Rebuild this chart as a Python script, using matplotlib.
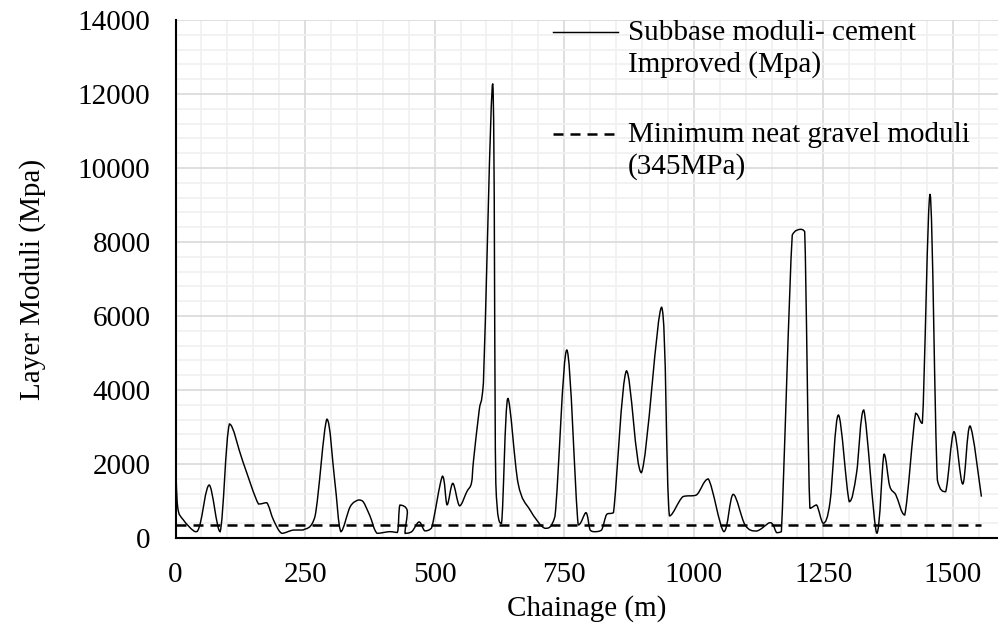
import numpy as np
import matplotlib.pyplot as plt
from matplotlib.path import Path
from matplotlib.patches import PathPatch
from matplotlib.lines import Line2D
from matplotlib.ticker import MultipleLocator

plt.rcParams['font.family'] = ['Liberation Serif', 'DejaVu Serif']
plt.rcParams['font.size'] = 21

# chainage (m) and subbase moduli (MPa)
chainage = [0, 4, 15, 38, 47, 65, 86, 104, 130, 160, 176, 189, 205, 227, 246, 269,
            292, 307, 319, 337, 353, 362, 375, 389, 413, 428, 433, 447, 443, 456,
            470, 481, 494, 515, 524, 535, 548, 562, 571, 575, 586, 594, 612, 618,
            629, 641, 661, 684, 713, 732, 755, 777, 792, 800, 809, 822, 832, 845,
            870, 899, 938, 953, 979, 1005, 1028, 1058, 1076, 1099, 1121, 1146, 1153,
            1160, 1169, 1190, 1205, 1214, 1224, 1237, 1250, 1263, 1279, 1300, 1314,
            1328, 1353, 1367, 1378, 1390, 1407, 1428, 1441, 1456, 1470, 1486, 1502,
            1519, 1533, 1555]
moduli = [2200, 850, 490, 171, 351, 1432, 171, 3081, 2060, 919, 954, 486, 126, 215,
          216, 577, 3210, 1570, 171, 846, 1027, 982, 600, 126, 171, 150, 890, 740,
          125, 175, 434, 193, 270, 1670, 898, 1477, 869, 1252, 1486, 2100, 3460,
          4180, 12280, 1478, 397, 3775, 1478, 757, 262, 576, 5081, 351, 685, 216,
          171, 216, 640, 685, 4517, 1766, 6236, 595, 1117, 1162, 1595, 171, 1180,
          351, 189, 414, 351, 144, 171, 8189, 8342, 8279, 802, 892, 397, 982, 3324,
          982, 1750, 3459, 126, 2270, 1405, 1162, 622, 3370, 3099, 9295, 1567, 1252,
          2874, 1459, 3027, 1117]
min_gravel = 345

label_main = 'Subbase moduli- cement\nImproved (Mpa)'
label_min = 'Minimum neat gravel moduli\n(345MPa)'


def smooth_path(x, y):
    # smoothed line like excel: catmull-rom beziers, controls kept inside each segment's y range
    pts = np.column_stack([x, y]).astype(float)
    p = np.vstack([pts[0], pts, pts[-1]])
    verts = [pts[0]]
    codes = [Path.MOVETO]
    for i in range(1, len(p) - 2):
        p0, p1, p2, p3 = p[i - 1], p[i], p[i + 1], p[i + 2]
        c1 = p1 + (p2 - p0) / 6
        c2 = p2 - (p3 - p1) / 6
        lo, hi = min(p1[1], p2[1]), max(p1[1], p2[1])
        c1[1] = np.clip(c1[1], lo, hi)
        c2[1] = np.clip(c2[1], lo, hi)
        verts += [c1, c2, p2]
        codes += [Path.CURVE4] * 3
    return Path(verts, codes)


fig = plt.figure(figsize=(9.98, 6.25), dpi=100)
ax = fig.add_axes([0.1759, 0.1392, 0.8241, 0.8288])

ax.add_patch(PathPatch(smooth_path(chainage, moduli), fill=False,
                       edgecolor='black', lw=1.05, zorder=3))
ax.plot([chainage[0], chainage[-1]], [min_gravel, min_gravel], color='black',
        lw=1.8, dashes=(4, 2.8), zorder=3)

ax.set_xlim(0, 1587)
ax.set_ylim(0, 14000)
ax.xaxis.set_major_locator(MultipleLocator(250))
ax.xaxis.set_minor_locator(MultipleLocator(50))
ax.yaxis.set_major_locator(MultipleLocator(2000))
ax.yaxis.set_minor_locator(MultipleLocator(400))
ax.grid(which='major', color='#d9d9d9', lw=1.2, zorder=0)
ax.grid(which='minor', color='#f0f0f0', lw=1.2, zorder=0)
ax.set_axisbelow(True)
ax.tick_params(which='both', length=0)
ax.tick_params(axis='x', pad=17)
ax.tick_params(axis='y', pad=18)

for s in ['top', 'right']:
    ax.spines[s].set_visible(False)
for s in ['left', 'bottom']:
    ax.spines[s].set_linewidth(1.5)

ax.set_xlabel('Chainage (m)')
ax.set_ylabel('Layer Moduli (Mpa)')
ax.xaxis.set_label_coords(0.5, -0.11)
ax.yaxis.set_label_coords(-0.158, 0.5)

handles = [Line2D([], [], color='black', lw=1.05),
           Line2D([], [], color='black', lw=1.8, dashes=(4, 2.8))]
leg = ax.legend(handles, [label_main, label_min], loc='upper left',
                bbox_to_anchor=(0.459, 1.0), frameon=False, borderpad=0,
                borderaxespad=0, labelspacing=1.49, handlelength=2.23,
                handletextpad=0.34)
for t in leg.get_texts():
    t.set_linespacing(1.26)
# put the key line next to the first line of each label
for ln in leg.get_lines():
    ln.set_ydata(np.asarray(ln.get_ydata()) + 12)

fig.savefig('out.png', dpi=100)
